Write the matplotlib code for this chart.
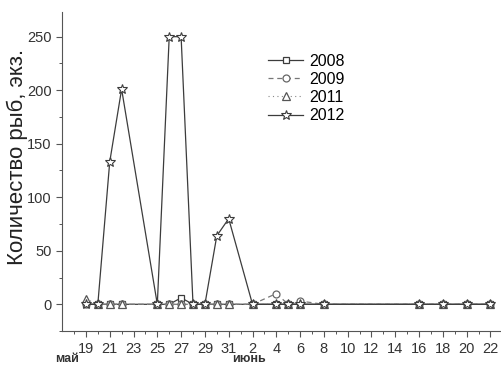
import matplotlib.pyplot as plt
import numpy as np

plt.rcParams['font.family'] = ['Liberation Sans', 'DejaVu Sans']

# sampling dates (may 19 .. june 22) as day numbers counted from may 19
dates = ["19.05", "20.05", "21.05", "22.05", "25.05", "26.05", "27.05", "28.05",
         "29.05", "30.05", "31.05", "02.06", "04.06", "05.06", "06.06", "08.06",
         "16.06", "18.06", "20.06", "22.06"]
y2008 = [0, 0, 0, 0, 0, 0, 6, 0, 0, 0, 0, 0, 0, 0, 0, 0, 0, 0, 0, 0]
y2009 = [0, 0, 0, 0, 0, 0, 0, 0, 0, 0, 0, 0, 10, 0, 3, 0, 0, 0, 0, 0]
y2011 = [5, 0, 0, 0, 0, 0, 0, 0, 0, 0, 0, 0, 0, 0, 0, 0, 0, 0, 0, 0]
y2012 = [0, 0, 133, 201, 0, 250, 250, 0, 0, 64, 80, 0, 0, 0, 0, 0, 0, 0, 0, 0]

tick_labels = ["19", "21", "23", "25", "27", "29", "31", "2", "4", "6", "8",
               "10", "12", "14", "16", "18", "20", "22"]


def day_index(s):
    d, m = s.split(".")
    d = int(d)
    return d - 19 if m == "05" else d + 12


x = np.array([day_index(s) for s in dates])
col = "#3c3c3c"

fig = plt.figure(figsize=(5.01, 3.65), dpi=100)
ax = fig.add_axes([0.124, 0.093, 0.874, 0.874])

ax.plot(x, y2008, color=col, lw=0.9, marker="s", ms=5, mfc="white", mec=col,
        mew=0.9, label="2008", zorder=3)
ax.plot(x, y2009, color="#777777", lw=0.9, ls=(0, (4, 3)), marker="o", ms=5,
        mfc="white", mec="#666666", mew=0.9, label="2009", zorder=3)
ax.plot(x, y2011, color="#888888", lw=0.8, ls=(0, (1, 3)), marker="^", ms=6,
        mfc="white", mec="#555555", mew=0.9, label="2011", zorder=4)
ax.plot(x, y2012, color=col, lw=0.9, marker="*", ms=7, mfc="white", mec=col,
        mew=0.8, label="2012", zorder=5)

ax.set_xlim(-2, 34.8)
ax.set_ylim(-25, 273)
ax.set_xticks(np.arange(0, 35, 2))
ax.set_xticklabels(tick_labels)
ax.set_xticks(np.arange(-1, 35, 1), minor=True)
ax.set_yticks([0, 50, 100, 150, 200, 250])
ax.set_yticks(np.arange(-25, 275, 25), minor=True)
ax.tick_params(axis="both", which="major", labelsize=10.5, length=4, width=0.8,
               colors="#555555", labelcolor="#333333")
ax.tick_params(axis="x", which="major", pad=4)
ax.tick_params(axis="both", which="minor", length=2.5, width=0.7, colors="#555555")

for side in ["top", "right"]:
    ax.spines[side].set_visible(False)
for side in ["left", "bottom"]:
    ax.spines[side].set_color("#555555")
    ax.spines[side].set_linewidth(0.8)

ax.set_ylabel("Количество рыб, экз.", fontsize=16, color="#222222")
ax.yaxis.set_label_coords(-0.078, 0.545)

ax.legend(loc="upper left", bbox_to_anchor=(0.445, 0.905), frameon=False,
          fontsize=11.5, handlelength=2.2, handletextpad=0.4, labelspacing=0.2,
          borderpad=0.2)

fig.text(0.11, 0.0, "май", fontsize=9, fontweight="bold", color="#333333",
         ha="left", va="bottom")
fig.text(0.463, 0.0, "июнь", fontsize=9, fontweight="bold", color="#333333",
         ha="left", va="bottom")

fig.savefig("out.png", dpi=100)
